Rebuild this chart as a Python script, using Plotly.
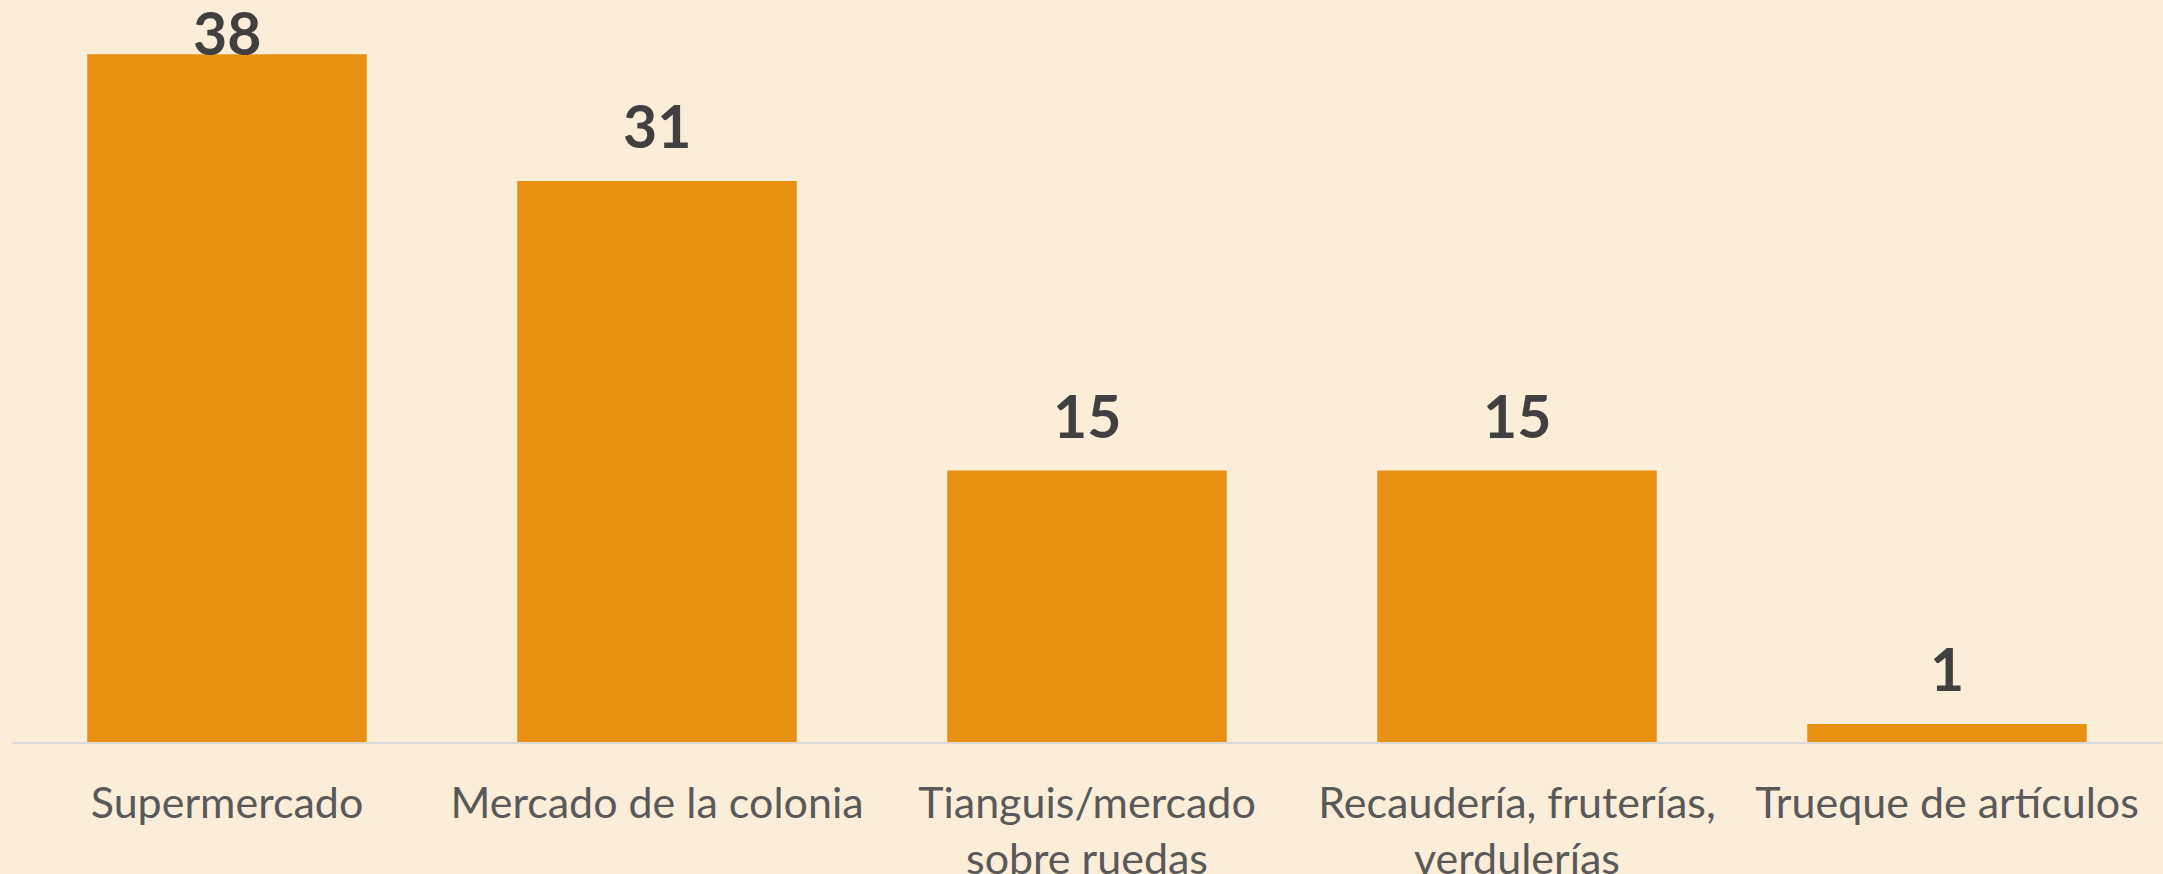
"""Bar chart: where people buy food."""
import plotly.graph_objects as go

categories = [
    "Supermercado",
    "Mercado de la colonia",
    "Tianguis/mercado<br>sobre ruedas",
    "Recaudería, fruterías,<br>verdulerías",
    "Trueque de artículos",
]
values = [38, 31, 15, 15, 1]

BG = "#FAEED9"
BAR = "#E89012"
Y_MAX = 41
LABEL_GAP = 30  # px between bar top and its value label
LABEL_FONT = dict(family="Lato", size=59, color="#404040", weight="bold")

fig = go.Figure(go.Bar(
    x=categories, y=values,
    marker=dict(color=BAR, line=dict(width=0)),
    hoverinfo="x+y",
))

for cat, v in zip(categories, values):
    # labels that would leave the figure get pinned to the top edge
    if v + 5.5 > Y_MAX:
        fig.add_annotation(x=cat, y=1, yref="paper", yanchor="top", text=str(v),
                           showarrow=False, yshift=5, font=LABEL_FONT)
    else:
        fig.add_annotation(x=cat, y=v, yanchor="bottom", text=str(v),
                           showarrow=False, yshift=LABEL_GAP - 12, font=LABEL_FONT)

fig.update_layout(
    width=2163, height=874,
    margin=dict(l=12, r=1, t=0, b=132),
    paper_bgcolor=BG, plot_bgcolor=BG,
    bargap=0.35,
    showlegend=False,
)
fig.update_xaxes(
    showline=True, linecolor="#D9D9D9", linewidth=2,
    ticks="", ticklabelstandoff=22, automargin=False,
    tickfont=dict(family="Lato", size=43, color="#595959"),
    showgrid=False,
)
fig.update_yaxes(visible=False, range=[0, Y_MAX], showgrid=False)

fig.write_html(
    "out.html",
    config={"displayModeBar": False},
    post_script="document.body.style.margin='0';document.body.style.background='%s';" % BG,
)
